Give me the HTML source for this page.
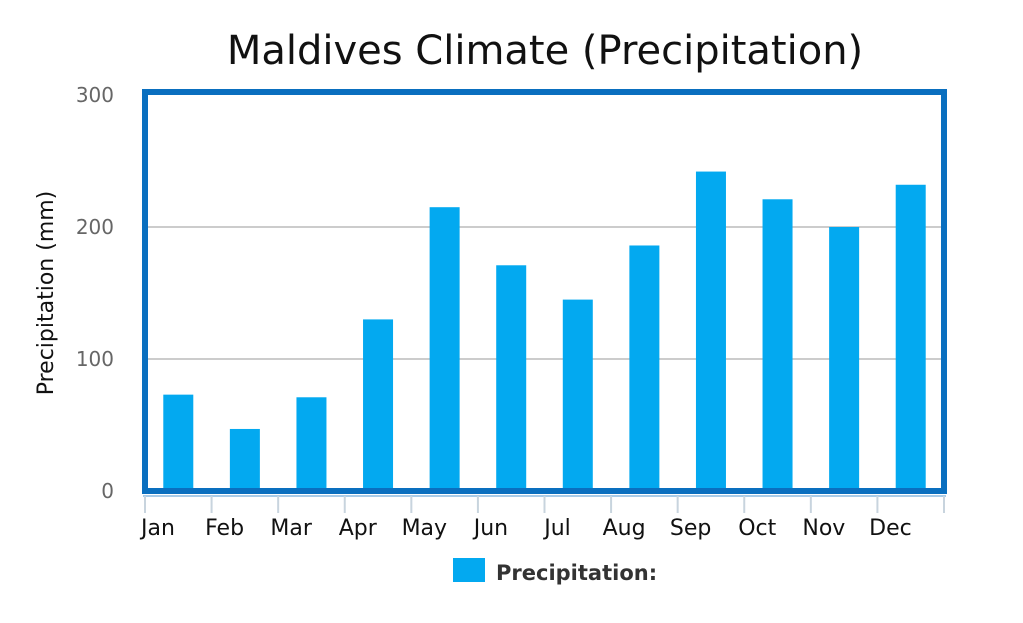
<!DOCTYPE html>
<html><head><meta charset="utf-8"><style>
body{margin:0;background:#fff;width:1023px;height:619px;overflow:hidden;font-family:"DejaVu Sans","Liberation Sans",sans-serif}
</style></head><body>
<svg width="1023" height="619">
<text x="545" y="64" text-anchor="middle" font-size="40" fill="#111">Maldives Climate (Precipitation)</text>
<g id="grid"></g><g id="bars"></g><g id="axes"></g>
<text transform="translate(53,293) rotate(-90)" text-anchor="middle" font-size="22" fill="#111">Precipitation (mm)</text>
<rect x="453" y="558" width="32" height="24" fill="#03a9f0"/>
<text x="496" y="580" font-size="21" font-weight="bold" fill="#333">Precipitation:</text>
</svg>
<script>
const months=["Jan","Feb","Mar","Apr","May","Jun","Jul","Aug","Sep","Oct","Nov","Dec"];
const precip=[73,47,71,130,215,171,145,186,242,221,200,232];
const yTicks=[0,100,200,300];
const NS="http://www.w3.org/2000/svg";
const L=145,R=944,T=95,B=491,yMax=300;
const y=v=>B-(v/yMax)*(B-T);
const slot=(R-L)/months.length;
const x=i=>L+slot*i;
function mk(tag,attrs,parent){const e=document.createElementNS(NS,tag);for(const k in attrs)e.setAttribute(k,attrs[k]);document.getElementById(parent).appendChild(e);return e;}
yTicks.forEach(t=>{
  if(t>0&&t<yMax){const g=mk('line',{x1:L,x2:R,y1:y(t),y2:y(t),stroke:'#bbb','stroke-width':1.5},'grid');
  
  }
  const lb=mk('text',{x:114,y:y(t)+7,'text-anchor':'end','font-size':20,fill:'#666'},'grid');lb.textContent=t;
  
  
});
precip.forEach((v,i)=>{
  const b=mk('rect',{x:x(i)+slot/2-15,y:y(v),width:30,height:B-y(v),fill:'#03a9f0'},'bars');
  
  
});
const fr=mk('rect',{x:L-0,y:T-3,width:R-L,height:B-T+3,fill:'none',stroke:'#0a6fbf','stroke-width':6},'axes');


const ax=mk('line',{x1:L-2,x2:R+2,y1:B+5,y2:B+5,stroke:'#a8cbe8','stroke-width':2},'axes');


for(let i=0;i<=months.length;i++){
  const tk=mk('line',{x1:x(i),x2:x(i),y1:B+5,y2:B+22,stroke:'#c8d4de','stroke-width':2},'axes');
  
  
}
months.forEach((m,i)=>{
  const t=mk('text',{x:x(i)+13,y:535,'text-anchor':'middle','font-size':22,fill:'#111'},'axes');t.textContent=m;
  
  
});
</script>
</body></html>
